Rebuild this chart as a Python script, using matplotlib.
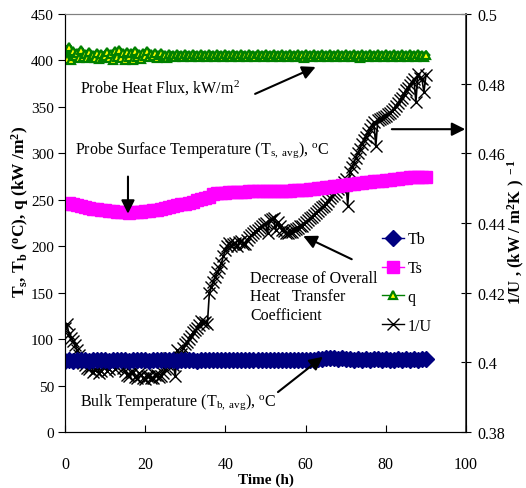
import numpy as np
import matplotlib
matplotlib.use("Agg")
import matplotlib.pyplot as plt

plt.rcParams['font.family'] = ['Liberation Serif', 'DejaVu Serif']
plt.rcParams['mathtext.fontset'] = 'custom'
plt.rcParams['mathtext.rm'] = 'Liberation Serif'
plt.rcParams['mathtext.it'] = 'Liberation Serif:italic'
plt.rcParams['mathtext.bf'] = 'Liberation Serif:bold'

# bulk and surface temperature, hourly readings 0 .. 90 h
tb = [76, 77, 76, 77, 78, 77, 76, 77, 77, 78,
      77, 76, 77, 78, 77, 77, 76, 77, 78, 77,
      77, 76, 77, 78, 77, 77, 78, 77, 76, 77,
      78, 77, 77, 76, 77, 78, 77, 77, 78, 77,
      77, 78, 77, 77, 78, 77, 77, 78, 77, 78,
      77, 77, 78, 77, 78, 77, 78, 77, 78, 78,
      77, 78, 78, 79, 79, 80, 80, 80, 79, 80,
      79, 79, 78, 79, 78, 79, 78, 79, 79, 78,
      79, 78, 77, 79, 78, 79, 78, 79, 78, 79,
      79]

ts = [246, 247, 245, 244, 243, 242, 241, 240, 240, 239,
      239, 238, 238, 237, 237, 237, 236, 237, 237, 237,
      238, 238, 239, 239, 240, 241, 242, 243, 244, 245,
      246, 247, 248, 250, 251, 252, 253, 256, 257, 257,
      257, 258, 258, 258, 258, 258, 259, 259, 259, 259,
      259, 259, 260, 260, 260, 260, 260, 261, 261, 261,
      261, 262, 262, 263, 263, 264, 264, 265, 265, 266,
      266, 267, 267, 268, 268, 269, 269, 270, 270, 270,
      271, 271, 272, 272, 273, 273, 274, 274, 275, 274,
      275]

# heat flux and 1/U, half-hourly readings 0 .. 90 h
q = [412, 402, 414, 400, 410, 405, 408, 403, 411, 404,
     407, 403, 409, 404, 406, 403, 408, 402, 407, 404,
     405, 409, 403, 407, 400, 410, 404, 411, 403, 408,
     401, 409, 404, 408, 400, 410, 404, 407, 402, 408,
     405, 410, 404, 407, 405, 408, 403, 406, 408, 404,
     406, 403, 407, 405, 406, 404, 407, 405, 406, 404,
     407, 405, 406, 404, 407, 405, 406, 404, 407, 405,
     406, 404, 407, 405, 406, 404, 407, 405, 406, 404,
     407, 405, 406, 404, 407, 405, 406, 404, 407, 405,
     406, 404, 407, 405, 406, 404, 407, 405, 406, 404,
     407, 405, 406, 404, 407, 405, 406, 404, 407, 405,
     406, 404, 407, 405, 406, 404, 407, 405, 406, 403,
     407, 405, 406, 404, 407, 405, 406, 404, 407, 405,
     406, 404, 407, 405, 406, 404, 407, 405, 406, 404,
     407, 405, 406, 404, 407, 405, 406, 403, 407, 405,
     406, 404, 407, 405, 406, 404, 407, 405, 406, 404,
     407, 405, 406, 404, 407, 405, 406, 404, 407, 405,
     406, 404, 407, 405, 406, 404, 407, 405, 406, 404,
     406]

inv_u = [0.4099, 0.4110, 0.4080, 0.4070, 0.4061, 0.4050, 0.4035, 0.4020, 0.4008, 0.3998,
         0.3992, 0.3985, 0.3981, 0.3990, 0.3973, 0.3978, 0.3987, 0.3970, 0.3976, 0.3995,
         0.3992, 0.3975, 0.3981, 0.3998, 0.3997, 0.3980, 0.3987, 0.4000, 0.4003, 0.3985,
         0.3976, 0.3965, 0.3960, 0.3972, 0.3971, 0.3958, 0.3955, 0.3968, 0.3965, 0.3955,
         0.3952, 0.3962, 0.3960, 0.3954, 0.3955, 0.3963, 0.3965, 0.3958, 0.3960, 0.3970,
         0.3981, 0.3995, 0.4013, 0.4000, 0.3992, 0.3962, 0.4035, 0.4015, 0.4024, 0.4040,
         0.4053, 0.4058, 0.4067, 0.4075, 0.4088, 0.4092, 0.4099, 0.4108, 0.4120, 0.4112,
         0.4115, 0.4110, 0.4200, 0.4215, 0.4232, 0.4245, 0.4259, 0.4270, 0.4285, 0.4305,
         0.4323, 0.4335, 0.4344, 0.4335, 0.4339, 0.4342, 0.4333, 0.4345, 0.4349, 0.4340,
         0.4341, 0.4352, 0.4360, 0.4365, 0.4371, 0.4376, 0.4381, 0.4386, 0.4392, 0.4396,
         0.4400, 0.4370, 0.4408, 0.4411, 0.4413, 0.4380, 0.4403, 0.4392, 0.4381, 0.4376,
         0.4371, 0.4372, 0.4373, 0.4375, 0.4379, 0.4383, 0.4387, 0.4390, 0.4392, 0.4398,
         0.4403, 0.4408, 0.4413, 0.4418, 0.4424, 0.4430, 0.4435, 0.4440, 0.4445, 0.4450,
         0.4456, 0.4464, 0.4472, 0.4477, 0.4483, 0.4490, 0.4499, 0.4504, 0.4509, 0.4517,
         0.4525, 0.4449, 0.4547, 0.4560, 0.4573, 0.4587, 0.4600, 0.4613, 0.4627, 0.4638,
         0.4648, 0.4658, 0.4669, 0.4680, 0.4691, 0.4620, 0.4696, 0.4698, 0.4701, 0.4704,
         0.4707, 0.4712, 0.4717, 0.4722, 0.4728, 0.4736, 0.4744, 0.4752, 0.4760, 0.4770,
         0.4781, 0.4789, 0.4797, 0.4805, 0.4813, 0.4747, 0.4829, 0.4815, 0.4813, 0.4776,
         0.4824]

left_ticks = [0, 50, 100, 150, 200, 250, 300, 350, 400, 450]
right_ticks = [0.38, 0.40, 0.42, 0.44, 0.46, 0.48, 0.50]
right_labels = ['0.38', '0.4', '0.42', '0.44', '0.46', '0.48', '0.5']
x_ticks = [0, 20, 40, 60, 80, 100]

fig = plt.figure(figsize=(5.26, 4.89), dpi=100)
ax = fig.add_axes([0.1236, 0.1145, 0.7624, 0.8548])
ax2 = ax.twinx()

hours = np.arange(len(tb))
half_hours = np.arange(len(q)) * 0.5
l_tb, = ax.plot(hours, tb, color='#000080', lw=5, marker='D', ms=8,
                mfc='#000080', mec='#000080')
l_ts, = ax.plot(np.arange(len(ts)), ts, color='#FF00FF', lw=4, marker='s', ms=8,
                mfc='#FF00FF', mec='#FF00FF')
l_q, = ax.plot(half_hours, q, color='#008000', lw=5, marker='^', ms=6,
               mfc='#FFFF00', mec='#008000', mew=1.6)
l_u, = ax2.plot(np.arange(len(inv_u)) * 0.5, inv_u, color='black', lw=1.2,
                marker='x', ms=8, mew=1)

ax.set_xlim(0, 100)
ax.set_ylim(0, 450)
ax.set_xticks(x_ticks)
ax.set_yticks(left_ticks)
ax2.set_ylim(0.38, 0.50)
ax2.set_yticks(right_ticks)
ax2.set_yticklabels(right_labels)

ax.tick_params(axis='y', direction='out', length=5, pad=3, labelsize=11)
ax.tick_params(axis='x', direction='in', length=5, pad=17, labelsize=11.5)
ax2.tick_params(axis='y', direction='inout', length=7, pad=5, labelsize=11.5)
ax.spines['top'].set_color('#808080')
ax2.spines['top'].set_color('#808080')
ax2.spines['right'].set_color('#404040')
ax2.spines['right'].set_linewidth(1.3)

ax.set_xlabel('Time (h)', fontsize=11, fontweight='bold', labelpad=1)
ax.set_ylabel(r'T$_{\bf s}$, T$_{\bf b}$ ($^{\bf o}$C), q (kW /m$^{\bf 2}$)',
              fontsize=12.5, fontweight='bold')
ax.yaxis.set_label_coords(-0.085, 0.53)
ax2.set_ylabel(r'1/U , (kW / m$^{\bf 2}$K ) $^{\bf -1}$', fontsize=12, fontweight='bold',
               rotation=90)
ax2.yaxis.set_label_coords(1.10, 0.48)

# annotations and arrows
arrow = dict(arrowstyle='-|>', color='black', lw=1.5, mutation_scale=20,
             shrinkA=0, shrinkB=0)
fs = 11.5
ax.text(3.7, 371, r'Probe Heat Flux, kW/m$^{2}$', fontsize=fs, va='center')
ax.annotate('', xy=(62.5, 393), xytext=(47.4, 364), arrowprops=arrow)

ax.text(2.5, 305, r'Probe Surface Temperature (T$_{\rm s,\ avg}$), $^{\rm o}$C',
        fontsize=fs, va='center')
ax.annotate('', xy=(15.7, 235), xytext=(15.7, 275), arrowprops=arrow)

ax.annotate('', xy=(99.8, 326), xytext=(81.5, 326), arrowprops=arrow,
            annotation_clip=False)

ax.text(46.1, 146, 'Decrease of Overall\nHeat   Transfer\nCoefficient',
        fontsize=fs, va='center', linespacing=1.2)
ax.annotate('', xy=(59.4, 211), xytext=(71.5, 186), arrowprops=arrow)

ax.text(3.7, 33, r'Bulk Temperature (T$_{\rm b,\ avg}$), $^{\rm o}$C',
        fontsize=fs, va='center')
ax.annotate('', xy=(64.3, 81), xytext=(53.1, 43), arrowprops=arrow)

leg = ax.legend([l_tb, l_ts, l_q, l_u], ['Tb', 'Ts', 'q', '1/U'],
                loc='upper left', bbox_to_anchor=(0.79, 0.48), frameon=False,
                fontsize=11.5, handlelength=1.4, handletextpad=0.2,
                labelspacing=0.8, borderaxespad=0, borderpad=0)
# thin lines in the legend keys
for h in leg.legend_handles:
    h.set_linewidth(1)
ax.set_zorder(ax2.get_zorder() + 1)
ax.patch.set_visible(False)

fig.savefig('out.png', dpi=100)
